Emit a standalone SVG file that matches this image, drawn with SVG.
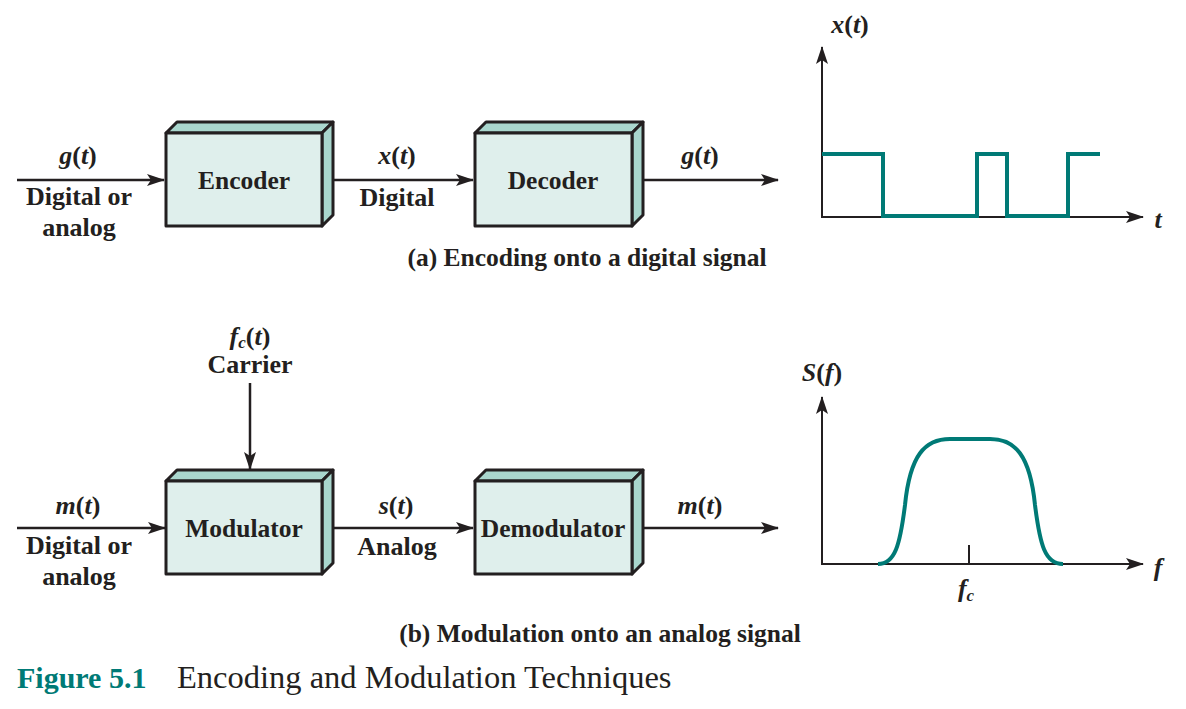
<svg xmlns="http://www.w3.org/2000/svg" width="1186" height="709" viewBox="0 0 1186 709">
<defs>
<style>
text{font-family:"Liberation Serif","Times New Roman",serif;fill:#231f20;}
.b{font-weight:bold;font-size:25.5px;}
.lb{font-weight:bold;font-size:26px;}
.cap{font-weight:bold;font-size:25.5px;}
.i{font-weight:bold;font-size:26px;}
.it{font-style:italic;}
.front{fill:#dfefec;stroke:#231f20;stroke-width:3;stroke-linejoin:round;}
.side{fill:#a9d6cd;stroke:#231f20;stroke-width:3;stroke-linejoin:round;}
.conn{stroke:#231f20;stroke-width:2.5;fill:none;}
.axis{stroke:#231f20;stroke-width:2;fill:none;}
.sig{stroke:#007a76;stroke-width:4;fill:none;}
</style>
<marker id="ah" viewBox="0 0 18 12" refX="17" refY="6" markerWidth="18" markerHeight="12" markerUnits="userSpaceOnUse" orient="auto">
<path d="M0,0 L18,6 L0,12 L4,6 Z" fill="#231f20"/>
</marker>
</defs>
<rect width="1186" height="709" fill="#ffffff"/>

<g id="connectors">
<line class="conn" x1="17" y1="180" x2="164" y2="180" marker-end="url(#ah)"/>
<line class="conn" x1="322" y1="180" x2="473" y2="180" marker-end="url(#ah)"/>
<line class="conn" x1="643" y1="180" x2="778" y2="180" marker-end="url(#ah)"/>
<line class="conn" x1="17" y1="528" x2="165" y2="528" marker-end="url(#ah)"/>
<line class="conn" x1="322" y1="528" x2="473" y2="528" marker-end="url(#ah)"/>
<line class="conn" x1="643" y1="528" x2="778" y2="528" marker-end="url(#ah)"/>
<line class="conn" x1="250" y1="383" x2="250" y2="469" marker-end="url(#ah)"/>
</g>

<g id="encoder">
<path class="side" d="M166,133 L177,122 L333,122 L322,133 Z"/>
<path class="side" d="M322,133 L333,122 L333,215 L322,226 Z"/>
<rect class="front" x="166" y="133" width="156" height="93"/>
<text class="b" x="244" y="189" text-anchor="middle">Encoder</text>
</g>

<g id="decoder">
<path class="side" d="M475,133 L486,122 L643,122 L632,133 Z"/>
<path class="side" d="M632,133 L643,122 L643,215 L632,226 Z"/>
<rect class="front" x="475" y="133" width="157" height="93"/>
<text class="b" x="553" y="189" text-anchor="middle">Decoder</text>
</g>

<g id="modulator">
<path class="side" d="M166,481 L177,470 L333,470 L322,481 Z"/>
<path class="side" d="M322,481 L333,470 L333,563 L322,574 Z"/>
<rect class="front" x="166" y="481" width="156" height="93"/>
<text class="b" x="244" y="537" text-anchor="middle">Modulator</text>
</g>

<g id="demodulator">
<path class="side" d="M475,481 L486,470 L643,470 L632,481 Z"/>
<path class="side" d="M632,481 L643,470 L643,563 L632,574 Z"/>
<rect class="front" x="475" y="481" width="157" height="93"/>
<text class="b" x="553" y="537" text-anchor="middle">Demodulator</text>
</g>

<g id="labels-a">
<text class="i" x="78" y="164" text-anchor="middle"><tspan class="it">g</tspan>(<tspan class="it">t</tspan>)</text>
<text class="lb" x="79" y="205" text-anchor="middle">Digital or</text>
<text class="lb" x="79" y="236" text-anchor="middle">analog</text>
<text class="i" x="397" y="164" text-anchor="middle"><tspan class="it">x</tspan>(<tspan class="it">t</tspan>)</text>
<text class="lb" x="397" y="206" text-anchor="middle">Digital</text>
<text class="i" x="700" y="164" text-anchor="middle"><tspan class="it">g</tspan>(<tspan class="it">t</tspan>)</text>
<text class="cap" x="587" y="266" text-anchor="middle">(a) Encoding onto a digital signal</text>
</g>

<g id="labels-b">
<text class="i" x="250" y="345" text-anchor="middle"><tspan class="it">f</tspan><tspan class="it" font-size="17" dy="3">c</tspan><tspan dy="-3">(</tspan><tspan class="it">t</tspan>)</text>
<text class="lb" x="250" y="373" text-anchor="middle">Carrier</text>
<text class="i" x="78" y="514" text-anchor="middle"><tspan class="it">m</tspan>(<tspan class="it">t</tspan>)</text>
<text class="lb" x="79" y="554" text-anchor="middle">Digital or</text>
<text class="lb" x="79" y="585" text-anchor="middle">analog</text>
<text class="i" x="396" y="514" text-anchor="middle"><tspan class="it">s</tspan>(<tspan class="it">t</tspan>)</text>
<text class="lb" x="397" y="555" text-anchor="middle">Analog</text>
<text class="i" x="700" y="514" text-anchor="middle"><tspan class="it">m</tspan>(<tspan class="it">t</tspan>)</text>
<text class="cap" x="600" y="642" text-anchor="middle">(b) Modulation onto an analog signal</text>
</g>

<g id="chart-a">
<line class="axis" x1="822" y1="217" x2="822" y2="47" marker-end="url(#ah)"/>
<line class="axis" x1="821" y1="217" x2="1143" y2="217" marker-end="url(#ah)"/>
<path class="sig" d="M822,154 H883 V216 H977 V154 H1007 V216 H1068 V154 H1100"/>
<text class="i" x="850" y="33" text-anchor="middle"><tspan class="it">x</tspan>(<tspan class="it">t</tspan>)</text>
<text class="i it" x="1158" y="228" text-anchor="middle">t</text>
</g>

<g id="chart-b">
<line class="axis" x1="822" y1="565" x2="822" y2="397" marker-end="url(#ah)"/>
<line class="axis" x1="821" y1="564" x2="1143" y2="564" marker-end="url(#ah)"/>
<line class="axis" x1="969" y1="545" x2="969" y2="564"/>
<path class="sig" d="M878,564 C895,564 900,545 905,505 C910,455 925,439 950,439 L990,439 C1015,439 1030,455 1035,505 C1040,545 1045,564 1063,564"/>
<text class="i" x="822" y="381" text-anchor="middle"><tspan class="it">S</tspan>(<tspan class="it">f</tspan>)</text>
<text class="i it" x="1158" y="576" text-anchor="middle">f</text>
<text class="i" x="966" y="597" text-anchor="middle"><tspan class="it">f</tspan><tspan class="it" font-size="17" dy="4">c</tspan></text>
</g>

<g id="caption">
<text x="17" y="688" font-size="30" font-weight="bold" style="fill:#007a76">Figure 5.1</text>
<text x="177" y="688" font-size="32.5">Encoding and Modulation Techniques</text>
</g>
</svg>
